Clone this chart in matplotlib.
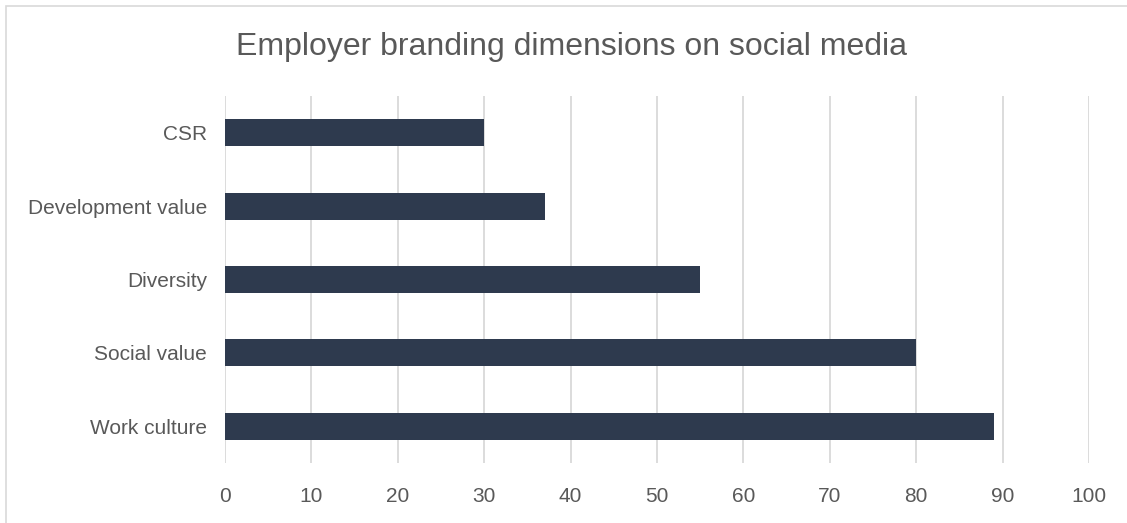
import matplotlib.pyplot as plt
from matplotlib.patches import Rectangle

categories = ["Work culture", "Social value", "Diversity", "Development value", "CSR"]
values = [89, 80, 55, 37, 30]
x_ticks = list(range(0, 101, 10))

TEXT = "#595959"
BAR = "#2e3a4e"
GRID = "#d9d9d9"

plt.rcParams['font.family'] = ['Liberation Sans', 'DejaVu Sans']

fig = plt.figure(figsize=(11.27, 5.23), dpi=100)
W, H = 1127, 523
ax = fig.add_axes([225 / W, 1 - 463 / H, (1089 - 225) / W, (463 - 96) / H])

ax.barh(range(len(categories)), values, height=0.37, color=BAR, zorder=3)
ax.set_ylim(-0.5, len(categories) - 0.5)
ax.set_xlim(0, 100)
ax.set_xticks(x_ticks)
ax.set_yticks(range(len(categories)))
ax.set_yticklabels(categories)

ax.grid(axis='x', color=GRID, linewidth=1.3, zorder=0)
for s in ax.spines.values():
    s.set_visible(False)
ax.tick_params(axis='both', length=0, colors=TEXT, labelsize=15)
ax.tick_params(axis='y', pad=13)
ax.tick_params(axis='x', pad=17)

fig.text(571 / W, 1 - 47 / H, "Employer branding dimensions on social media",
         ha='center', va='center', fontsize=23, color=TEXT)

# chart border
fig.patches.append(Rectangle((6 / W, -0.1), 1.2, 1 - 6 / H + 0.1, transform=fig.transFigure,
                             fill=False, edgecolor=GRID, linewidth=1.2))

fig.savefig("out.png", dpi=100)
